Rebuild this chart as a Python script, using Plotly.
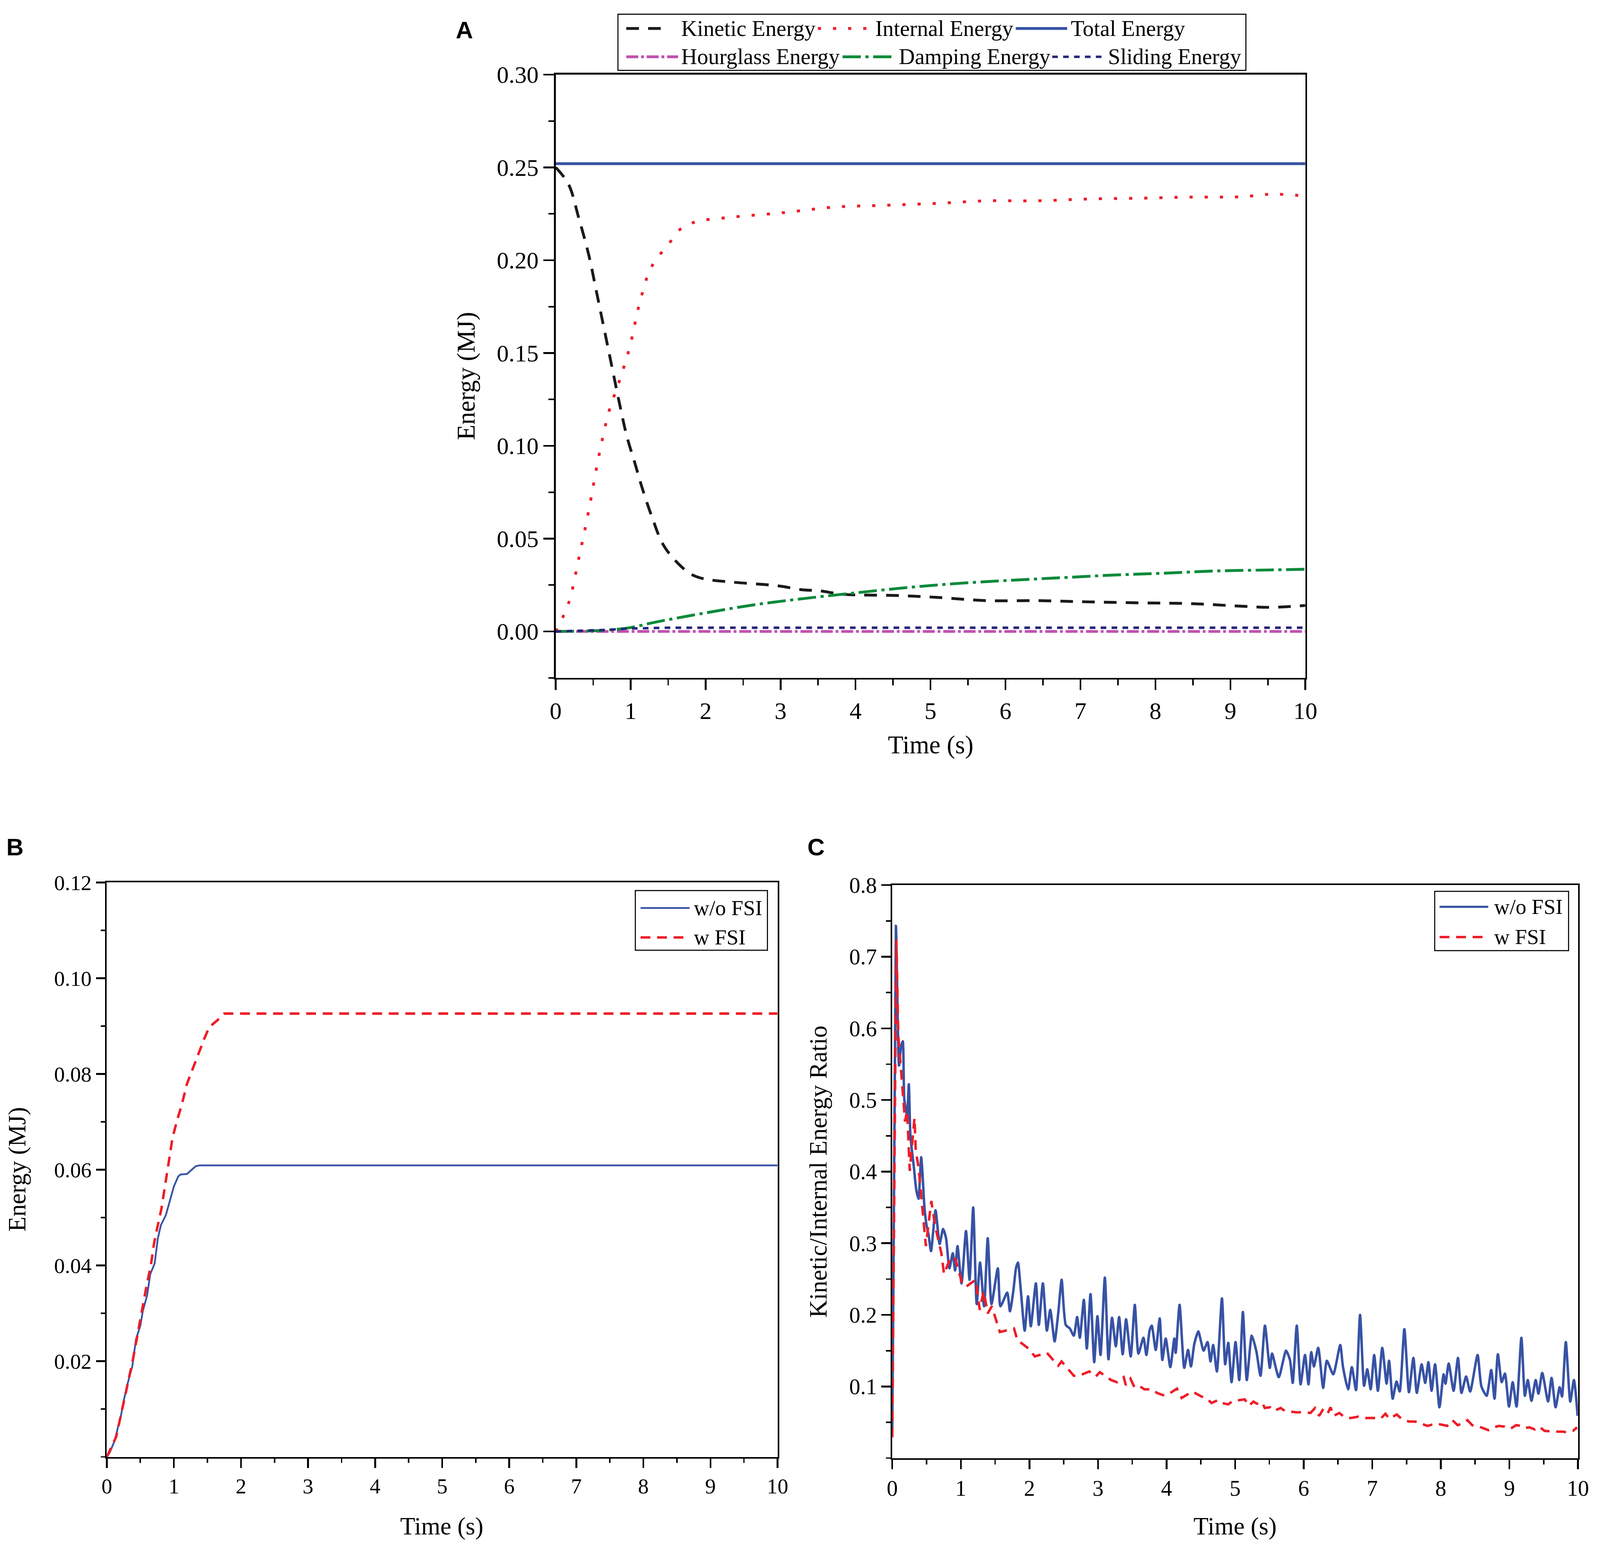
import plotly.graph_objects as go

# ---------------- data ----------------
# Panel A: energy balance of the whole model
a_kinetic_t = [0, 0.17, 0.306, 0.44, 0.544, 0.646, 0.748, 0.85, 0.95, 1.054, 1.156, 1.29, 1.43,
               1.6, 1.8, 1.97, 2.35, 2.96, 3.3, 3.5, 3.84, 4.52, 5.07, 5.75, 6.43, 7.04, 7.79,
               8.47, 9.15, 9.56, 10]
a_kinetic_e = [0.25, 0.241, 0.223, 0.203, 0.183, 0.163, 0.143, 0.123, 0.105, 0.091, 0.077, 0.061,
               0.047, 0.038, 0.031, 0.0284, 0.0266, 0.0246, 0.0224, 0.022, 0.02, 0.0194, 0.0184,
               0.0166, 0.0166, 0.016, 0.0154, 0.015, 0.0136, 0.013, 0.014]

a_internal_t = [0, 0.17, 0.306, 0.44, 0.578, 0.714, 0.85, 0.986, 1.12, 1.26, 1.39, 1.53, 1.67,
                1.87, 2.35, 3.03, 3.71, 4.39, 5.07, 5.75, 6.43, 7.1, 7.79, 8.47, 9.15, 9.56, 10]
a_internal_e = [0.0, 0.015, 0.039, 0.065, 0.095, 0.119, 0.135, 0.153, 0.177, 0.195, 0.203, 0.21,
                0.217, 0.2207, 0.2232, 0.2256, 0.2286, 0.2296, 0.2306, 0.232, 0.232, 0.233,
                0.2334, 0.234, 0.2342, 0.2356, 0.2346]

a_total_t = [0, 10]
a_total_e = [0.252, 0.252]

a_hourglass_t = [0, 10]
a_hourglass_e = [0.0, 0.0]

a_damping_t = [0, 0.646, 0.986, 1.33, 2.0, 2.69, 3.37, 4.05, 4.73, 5.41, 6.09, 6.77, 7.45,
               8.13, 8.81, 9.49, 10]
a_damping_e = [0.0, 0.0006, 0.002, 0.005, 0.01, 0.0146, 0.018, 0.021, 0.0238, 0.026, 0.0276,
               0.029, 0.0304, 0.0314, 0.0326, 0.0331, 0.0335]

a_sliding_t = [0, 0.65, 1.0, 1.5, 10]
a_sliding_e = [0.0, 0.0008, 0.0016, 0.002, 0.002]

# Panel B: energy with / without fluid-structure interaction
b_wo_t = [0, 0.046, 0.12, 0.167, 0.204, 0.25, 0.306, 0.38, 0.435, 0.5, 0.537, 0.6, 0.648,
          0.713, 0.76, 0.806, 0.88, 0.935, 1.0, 1.065, 1.1, 1.195, 1.27, 1.324, 1.38, 10]
b_wo_e = [0.0, 0.001, 0.0035, 0.0063, 0.0081, 0.0116, 0.0151, 0.0189, 0.0246, 0.0274, 0.0305,
          0.0337, 0.0382, 0.0404, 0.0456, 0.0484, 0.0505, 0.0533, 0.0565, 0.0586, 0.059,
          0.0591, 0.06, 0.0607, 0.0609, 0.0609]

b_w_t = [0, 0.139, 0.194, 0.27, 0.324, 0.39, 0.454, 0.528, 0.593, 0.657, 0.704, 0.75, 0.815,
         0.87, 0.935, 0.98, 1.046, 1.12, 1.194, 1.27, 1.36, 1.454, 1.528, 1.64, 1.75, 10]
b_w_e = [0.0, 0.0042, 0.0077, 0.0123, 0.0161, 0.0204, 0.0253, 0.0309, 0.0358, 0.04, 0.0446,
         0.0477, 0.0519, 0.0568, 0.0625, 0.0667, 0.0702, 0.0737, 0.0779, 0.0807, 0.0839,
         0.0874, 0.0898, 0.0911, 0.0926, 0.0926]

# Panel C: kinetic / internal energy ratio (peaks and troughs of the traces)
c_wo_t = [0, 0.053, 0.098, 0.127, 0.153, 0.176, 0.216, 0.241, 0.265, 0.314,
          0.349, 0.382, 0.422, 0.47, 0.5, 0.529, 0.565, 0.631, 0.69, 0.741,
          0.784, 0.833, 0.882, 0.916, 0.951, 1.01, 1.075, 1.127, 1.18, 1.231,
          1.28, 1.339, 1.392, 1.447, 1.539, 1.578, 1.676, 1.716, 1.765, 1.804,
          1.833, 1.873, 1.931, 1.98, 2.02, 2.094, 2.137, 2.196, 2.255, 2.304,
          2.367, 2.42, 2.47, 2.53, 2.59, 2.647, 2.696, 2.735, 2.794, 2.837,
          2.891, 2.945, 2.992, 3.037, 3.10, 3.153, 3.205, 3.26, 3.308, 3.36,
          3.41, 3.477, 3.537, 3.59, 3.663, 3.706, 3.754, 3.784, 3.842, 3.90,
          3.939, 3.988, 4.055, 4.113, 4.133, 4.19, 4.258, 4.313, 4.356, 4.404,
          4.463, 4.502, 4.54, 4.598, 4.641, 4.68, 4.734, 4.808, 4.855, 4.9,
          4.948, 5.006, 5.06, 5.113, 5.17, 5.243, 5.31, 5.37, 5.435, 5.506,
          5.539, 5.636, 5.743, 5.80, 5.84, 5.899, 5.955, 6.019, 6.07, 6.11,
          6.149, 6.212, 6.284, 6.338, 6.431, 6.533, 6.572, 6.648, 6.702, 6.763,
          6.822, 6.881, 6.927, 6.977, 7.028, 7.082, 7.146, 7.209, 7.245, 7.298,
          7.354, 7.4, 7.468, 7.535, 7.6, 7.65, 7.72, 7.772, 7.819, 7.865,
          7.916, 7.98, 8.04, 8.068, 8.115, 8.186, 8.25, 8.301, 8.369, 8.428,
          8.536, 8.592, 8.668, 8.735, 8.783, 8.832, 8.888, 8.935, 8.994, 9.048,
          9.104, 9.175, 9.226, 9.268, 9.322, 9.383, 9.424, 9.479, 9.564, 9.615,
          9.674, 9.733, 9.767, 9.823, 9.888, 9.941, 9.995]
c_wo_ratio = [0.04, 0.743, 0.548, 0.574, 0.582, 0.50, 0.48, 0.522, 0.449, 0.407,
              0.375, 0.362, 0.42, 0.349, 0.325, 0.312, 0.289, 0.346, 0.299, 0.32,
              0.307, 0.265, 0.286, 0.262, 0.296, 0.244, 0.317, 0.249, 0.35, 0.215,
              0.273, 0.212, 0.307, 0.215, 0.265, 0.212, 0.231, 0.205, 0.233, 0.265,
              0.273, 0.236, 0.178, 0.226, 0.184, 0.244, 0.186, 0.244, 0.178, 0.207,
              0.163, 0.202, 0.249, 0.186, 0.181, 0.171, 0.197, 0.168, 0.221, 0.153,
              0.229, 0.134, 0.198, 0.144, 0.252, 0.138, 0.196, 0.156, 0.197, 0.145,
              0.194, 0.142, 0.214, 0.146, 0.168, 0.144, 0.179, 0.185, 0.151, 0.195,
              0.137, 0.167, 0.127, 0.167, 0.147, 0.214, 0.126, 0.151, 0.128, 0.159,
              0.177, 0.163, 0.15, 0.162, 0.135, 0.158, 0.121, 0.223, 0.131, 0.161,
              0.106, 0.162, 0.109, 0.204, 0.109, 0.171, 0.149, 0.115, 0.185, 0.126,
              0.146, 0.113, 0.15, 0.137, 0.105, 0.185, 0.103, 0.144, 0.103, 0.148,
              0.128, 0.154, 0.098, 0.136, 0.117, 0.158, 0.128, 0.096, 0.127, 0.095,
              0.2, 0.101, 0.124, 0.096, 0.144, 0.094, 0.154, 0.104, 0.136, 0.083,
              0.107, 0.093, 0.18, 0.092, 0.14, 0.091, 0.131, 0.105, 0.134, 0.094,
              0.131, 0.071, 0.117, 0.104, 0.132, 0.094, 0.14, 0.091, 0.114, 0.093,
              0.144, 0.1, 0.087, 0.123, 0.083, 0.145, 0.106, 0.118, 0.072, 0.106,
              0.072, 0.168, 0.087, 0.109, 0.08, 0.109, 0.09, 0.119, 0.079, 0.112,
              0.071, 0.099, 0.086, 0.162, 0.079, 0.109, 0.059]

c_w_t = [0, 0.059, 0.088, 0.137, 0.167, 0.186, 0.216, 0.255, 0.324, 0.343,
         0.382, 0.49, 0.569, 0.627, 0.716, 0.755, 0.853, 0.92, 1.01, 1.07,
         1.216, 1.275, 1.333, 1.392, 1.451, 1.569, 1.775, 1.824, 2.0, 2.078,
         2.255, 2.42, 2.47, 2.647, 2.725, 2.872, 2.969, 3.027, 3.192, 3.279,
         3.376, 3.405, 3.473, 3.531, 3.6, 3.677, 3.793, 3.861, 3.948, 4.007,
         4.152, 4.22, 4.375, 4.443, 4.51, 4.588, 4.656, 4.753, 4.812, 4.899,
         4.967, 5.064, 5.141, 5.2, 5.267, 5.316, 5.393, 5.432, 5.51, 5.568,
         5.665, 5.723, 5.82, 5.887, 6.022, 6.098, 6.166, 6.225, 6.276, 6.343,
         6.391, 6.437, 6.52, 6.597, 6.682, 6.8, 6.9, 7.045, 7.121, 7.192,
         7.248, 7.358, 7.425, 7.535, 7.628, 7.721, 7.806, 7.915, 8.0, 8.093,
         8.169, 8.245, 8.33, 8.389, 8.457, 8.558, 8.693, 8.778, 8.845, 8.93,
         9.014, 9.099, 9.175, 9.226, 9.293, 9.37, 9.437, 9.513, 9.606, 9.682,
         9.775, 9.851, 9.927, 9.986]
c_w_ratio = [0.029, 0.724, 0.59, 0.533, 0.49, 0.47, 0.485, 0.401, 0.475, 0.428,
             0.407, 0.296, 0.359, 0.323, 0.286, 0.257, 0.281, 0.278, 0.247, 0.239,
             0.249, 0.207, 0.233, 0.202, 0.212, 0.176, 0.181, 0.165, 0.152, 0.142,
             0.147, 0.129, 0.135, 0.115, 0.115, 0.121, 0.114, 0.12, 0.109, 0.106,
             0.113, 0.102, 0.111, 0.099, 0.101, 0.096, 0.096, 0.091, 0.088, 0.088,
             0.097, 0.084, 0.093, 0.089, 0.086, 0.083, 0.077, 0.081, 0.077, 0.075,
             0.08, 0.081, 0.082, 0.073, 0.079, 0.076, 0.078, 0.07, 0.071, 0.066,
             0.07, 0.066, 0.065, 0.064, 0.064, 0.063, 0.07, 0.059, 0.067, 0.061,
             0.071, 0.059, 0.063, 0.057, 0.056, 0.058, 0.056, 0.056, 0.055, 0.062,
             0.055, 0.061, 0.055, 0.051, 0.051, 0.048, 0.045, 0.048, 0.047, 0.045,
             0.053, 0.046, 0.049, 0.053, 0.046, 0.044, 0.039, 0.043, 0.045, 0.044,
             0.041, 0.046, 0.045, 0.042, 0.043, 0.04, 0.044, 0.038, 0.037, 0.037,
             0.037, 0.036, 0.038, 0.043]

a_tick_vals = [0.0, 0.05, 0.10, 0.15, 0.20, 0.25, 0.30]
b_tick_vals = [0.02, 0.04, 0.06, 0.08, 0.10, 0.12]
c_tick_vals = [0.1, 0.2, 0.3, 0.4, 0.5, 0.6, 0.7, 0.8]

# ---------------- styling ----------------
W, H = 4550, 3954
SERIF = 'Liberation Serif'
SANS = 'Liberation Sans'
BLUE = '#3752A5'
RED = '#EE1D27'
BLACK = '#1a1a1a'
GREEN = '#0A8A3A'
MAGENTA = '#C24FB0'
NAVY = '#26257A'

DASH_KIN = '36px,26px'
DASH_INT = '9px,34px'
DASH_HOUR = '34px,8px,8px,8px'
DASH_DAMP = '52px,13px,9px,13px'
DASH_SLIDE = '16px,15px'
DASH_FSI = '28px,19px'


def px(x):
    return x / W


def py(y):
    return 1 - y / H


def axis_style(font_size, tick_len, minor_len, **kw):
    style = dict(
        showline=True, mirror=True, linecolor='black', linewidth=5,
        ticks='outside', ticklen=tick_len, tickwidth=5, tickcolor='black',
        showgrid=False, zeroline=False,
        tickfont=dict(family=SERIF, size=font_size, color='black'),
    )
    style['minor'] = dict(tickmode='linear', tick0=kw.pop('minor_tick0', 0),
                          dtick=kw.pop('minor_dtick'), ticks='outside', ticklen=minor_len,
                          tickwidth=4, tickcolor='black', showgrid=False)
    style.update(kw)
    return style


fig = go.Figure()

# panel A traces
fig.add_trace(go.Scatter(x=a_kinetic_t, y=a_kinetic_e, mode='lines', line_shape='spline',
                         line=dict(color=BLACK, width=8, dash=DASH_KIN), xaxis='x', yaxis='y'))
fig.add_trace(go.Scatter(x=a_internal_t, y=a_internal_e, mode='lines', line_shape='spline',
                         line=dict(color=RED, width=8, dash=DASH_INT), xaxis='x', yaxis='y'))
fig.add_trace(go.Scatter(x=a_total_t, y=a_total_e, mode='lines',
                         line=dict(color=BLUE, width=8), xaxis='x', yaxis='y'))
fig.add_trace(go.Scatter(x=a_hourglass_t, y=a_hourglass_e, mode='lines',
                         line=dict(color=MAGENTA, width=8, dash=DASH_HOUR), xaxis='x', yaxis='y'))
fig.add_trace(go.Scatter(x=a_damping_t, y=a_damping_e, mode='lines', line_shape='spline',
                         line=dict(color=GREEN, width=8, dash=DASH_DAMP), xaxis='x', yaxis='y'))
fig.add_trace(go.Scatter(x=a_sliding_t, y=a_sliding_e, mode='lines',
                         line=dict(color=NAVY, width=7, dash=DASH_SLIDE), xaxis='x', yaxis='y'))

# panel B traces
fig.add_trace(go.Scatter(x=b_wo_t, y=b_wo_e, mode='lines',
                         line=dict(color=BLUE, width=5), xaxis='x2', yaxis='y2'))
fig.add_trace(go.Scatter(x=b_w_t, y=b_w_e, mode='lines',
                         line=dict(color=RED, width=7, dash=DASH_FSI), xaxis='x2', yaxis='y2'))

# panel C traces
fig.add_trace(go.Scatter(x=c_wo_t, y=c_wo_ratio, mode='lines', line_shape='spline',
                         line=dict(color=BLUE, width=7, smoothing=0.6), xaxis='x3', yaxis='y3'))
fig.add_trace(go.Scatter(x=c_w_t, y=c_w_ratio, mode='lines',
                         line=dict(color=RED, width=7, dash=DASH_FSI), xaxis='x3', yaxis='y3'))

fig.update_traces(showlegend=False, hoverinfo='skip')

fig.update_layout(
    width=W, height=H,
    margin=dict(l=0, r=0, t=0, b=0),
    paper_bgcolor='white', plot_bgcolor='white',
    showlegend=False,
    xaxis=axis_style(68, 30, 16, domain=[px(1581), px(3737)], range=[0, 10], dtick=1, tick0=0,
                     minor_dtick=0.5, anchor='y'),
    yaxis=axis_style(68, 30, 16, domain=[py(1716), py(159)], range=[-0.025, 0.30],
                     tickmode='array', tickvals=a_tick_vals,
                     ticktext=[f'{v:.2f}' for v in a_tick_vals],
                     minor_dtick=0.025, minor_tick0=-0.025, anchor='x'),
    xaxis2=axis_style(61, 26, 12, domain=[px(290), px(2219)], range=[0, 10], dtick=1, tick0=0,
                      minor_dtick=0.5, anchor='y2'),
    yaxis2=axis_style(61, 26, 12, domain=[py(3727), py(2244)], range=[0, 0.12],
                      tickmode='array', tickvals=b_tick_vals,
                      ticktext=[f'{v:.2f}' for v in b_tick_vals],
                      minor_dtick=0.01, anchor='x2'),
    xaxis3=axis_style(63, 26, 13, domain=[px(2549), px(4521)], range=[0, 10], dtick=1, tick0=0,
                      minor_dtick=0.5, anchor='y3'),
    yaxis3=axis_style(63, 26, 13, domain=[py(3730), py(2251)], range=[0, 0.8],
                      tickmode='array', tickvals=c_tick_vals,
                      ticktext=[f'{v:.1f}' for v in c_tick_vals],
                      minor_dtick=0.05, anchor='x3'),
)

shapes = []
annotations = []


def label(text, x, y, size, family=SERIF, angle=0, bold=False, xanchor='center'):
    if bold:
        text = f'<b>{text}</b>'
    annotations.append(dict(text=text, x=px(x), y=py(y), xref='paper', yref='paper',
                            showarrow=False, xanchor=xanchor, yanchor='middle',
                            textangle=angle, font=dict(family=family, size=size, color='black')))


def legend_box(x0, y0, x1, y1):
    shapes.append(dict(type='rect', xref='paper', yref='paper', x0=px(x0), x1=px(x1),
                       y0=py(y1), y1=py(y0), line=dict(color='black', width=3),
                       fillcolor='white', layer='above'))


def legend_item(x0, x1, y, color, dash, width, text, tx, size=63):
    shapes.append(dict(type='line', xref='paper', yref='paper', x0=px(x0), x1=px(x1),
                       y0=py(y), y1=py(y), line=dict(color=color, width=width, dash=dash),
                       layer='above'))
    label(text, tx, y, size, xanchor='left')


# panel letters
label('A', 1318, 44, 68, family=SANS, bold=True)
label('B', 26, 2153, 68, family=SANS, bold=True)
label('C', 2330, 2153, 68, family=SANS, bold=True)

# axis titles
label('Energy (MJ)', 1323, 937, 72, angle=-90)
label('Time (s)', 2659, 1889, 72)
label('Energy (MJ)', 32, 2985, 70, angle=-90)
label('Time (s)', 1254, 3905, 70)
label('Kinetic/Internal Energy Ratio', 2336, 2990, 70, angle=-90)
label('Time (s)', 3535, 3905, 70)

# legend of panel A
legend_box(1760, 3, 3566, 148)
legend_item(1784, 1896, 40, BLACK, DASH_KIN, 8, 'Kinetic Energy', 1940)
legend_item(2335, 2478, 40, RED, DASH_INT, 8, 'Internal Energy', 2498)
legend_item(2904, 3052, 40, BLUE, 'solid', 8, 'Total Energy', 3060)
legend_item(1784, 1933, 113, MAGENTA, DASH_HOUR, 8, 'Hourglass Energy', 1940)
legend_item(2406, 2550, 113, GREEN, DASH_DAMP, 8, 'Damping Energy', 2566)
legend_item(3009, 3159, 113, NAVY, DASH_SLIDE, 7, 'Sliding Energy', 3168)

# legend of panel B
legend_box(1810, 2265, 2190, 2419)
legend_item(1825, 1966, 2310, BLUE, 'solid', 5, 'w/o FSI', 1976, 61)
legend_item(1825, 1966, 2386, RED, DASH_FSI, 7, 'w FSI', 1976, 61)

# legend of panel C
legend_box(4109, 2267, 4494, 2420)
legend_item(4123, 4263, 2307, BLUE, 'solid', 6, 'w/o FSI', 4278, 61)
legend_item(4123, 4263, 2385, RED, DASH_FSI, 7, 'w FSI', 4278, 61)

fig.update_layout(shapes=shapes, annotations=annotations)

# the browser page may be scaled (device pixel ratio), so fit the figure to the window:
# zoom to the window width and stretch the height to fill what is left
fit_page = """
document.documentElement.style.overflow = 'hidden';
document.body.style.margin = '0';
document.body.style.overflow = 'hidden';
var gd = document.getElementById('{plot_id}');
var s = window.innerWidth / %d;
var h = Math.round(window.innerHeight / s);
gd.style.zoom = s;
if (Math.abs(h - %d) > 2) {
    gd.style.height = h + 'px';
    Plotly.relayout(gd, {height: h});
}
""" % (W, H)

fig.write_html("out.html", config={'displayModeBar': False}, post_script=fit_page)
